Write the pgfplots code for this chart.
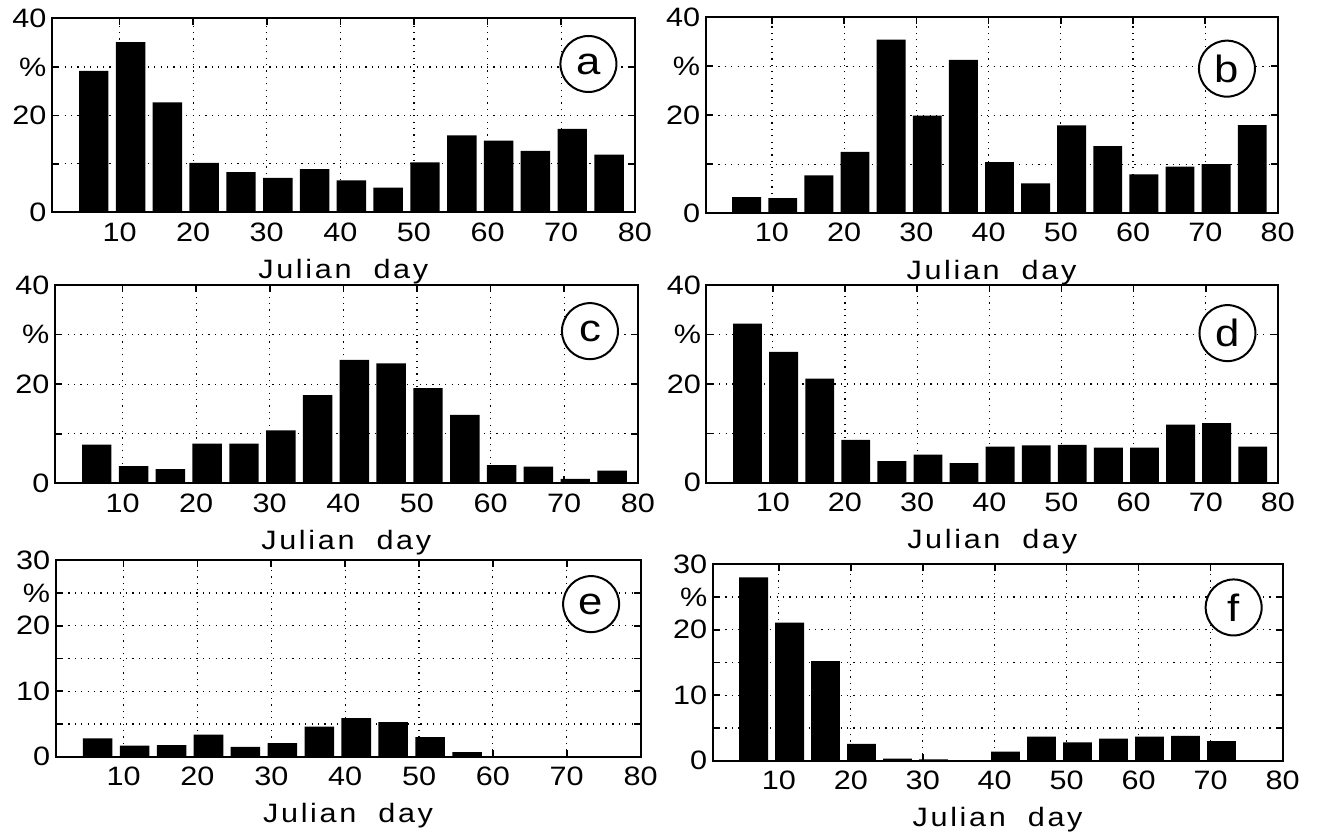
\documentclass[border=0pt]{standalone}
\usepackage{fontspec}
\setmainfont{Liberation Sans}[FakeStretch=1.15]
\newfontfamily\lblfont{Liberation Sans}[FakeStretch=1.15,LetterSpace=10]
\usepackage{pgfplots}
\pgfplotsset{compat=1.18}

\pgfplotsset{
  panel/.style={
    scale only axis,
    xmin=0.8, xmax=80,
    xtick={10,20,30,40,50,60,70,80},
    xticklabels={10,20,30,40,50,60,70,80},
    xtick pos=both, ytick pos=both,
    tick align=inside,
    major tick length=3.5pt,
    every tick/.style={black, line width=0.8pt},
    axis line style={black, line width=1pt},
    grid=major,
    major grid style={black, line width=0.6pt, dash pattern=on 0.6pt off 2.6pt},
    ticklabel style={font=\fontsize{13.3}{15}\selectfont},
    xticklabel shift=1.5pt,
    yticklabel style={inner sep=2.5pt},
    /pgf/number format/assume math mode=true,
    xlabel={\lblfont Julian\hspace{11pt}day},
    xlabel style={font=\fontsize{13.3}{15}\selectfont, at={(axis description cs:0.5,0)}, anchor=base, yshift=-33pt},
  },
  y40/.style={ymin=0, ymax=40, ytick={0,10,20,30,40}, yticklabels={0,,20,\%,40}},
  y30/.style={ymin=0, ymax=30, ytick={0,5,10,15,20,25,30}, yticklabels={0,,10,,20,\%,30}},
  hbar/.style={ybar, fill=black, draw=none, bar width=4, bar shift=0pt},
}
\tikzset{tag/.style={draw, circle, line width=1pt, fill=white, minimum size=28pt, inner sep=0pt, font=\fontsize{19}{21}\selectfont}}

\begin{document}
\begin{tikzpicture}
% (a)
\begin{axis}[panel, y40, at={(25.9pt,-106.2pt)}, anchor=south west, width=291.5pt, height=97pt]
\addplot[hbar] coordinates {(6.5,29.2) (11.5,35.1) (16.5,22.7) (21.5,10.2) (26.5,8.3) (31.5,7.1) (36.5,8.9) (41.5,6.6) (46.5,5.1) (51.5,10.3) (56.5,15.9) (61.5,14.8) (66.5,12.7) (71.5,17.2) (76.5,11.9)};
\node[tag] at (axis cs:73.7,30.6) {a};
\end{axis}
% (b)
\begin{axis}[panel, y40, at={(352.75pt,-106.6pt)}, anchor=south west, width=286pt, height=98pt]
\addplot[hbar] coordinates {(6.5,3.3) (11.5,3.1) (16.5,7.7) (21.5,12.5) (26.5,35.4) (31.5,19.9) (36.5,31.3) (41.5,10.4) (46.5,6.1) (51.5,17.9) (56.5,13.7) (61.5,7.9) (66.5,9.5) (71.5,10.0) (76.5,18.0)};
\node[tag] at (axis cs:73.0,29.5) {b};
\end{axis}
% (c)
\begin{axis}[panel, y40, at={(27.4pt,-241.7pt)}, anchor=south west, width=291.5pt, height=99.2pt]
\addplot[hbar] coordinates {(6.5,7.8) (11.5,3.5) (16.5,2.9) (21.5,8.0) (26.5,8.0) (31.5,10.7) (36.5,17.8) (41.5,24.9) (46.5,24.2) (51.5,19.2) (56.5,13.8) (61.5,3.7) (66.5,3.4) (71.5,0.9) (76.5,2.6)};
\node[tag] at (axis cs:73.5,30.7) {c};
\end{axis}
% (d)
\begin{axis}[panel, y40, at={(353.2pt,-241.4pt)}, anchor=south west, width=285.8pt, height=98.8pt]
\addplot[hbar] coordinates {(6.5,32.2) (11.5,26.5) (16.5,21.1) (21.5,8.7) (26.5,4.4) (31.5,5.7) (36.5,4.0) (41.5,7.3) (46.5,7.6) (51.5,7.7) (56.5,7.1) (61.5,7.1) (66.5,11.8) (71.5,12.1) (76.5,7.3)};
\node[tag] at (axis cs:73.0,30.3) {d};
\end{axis}
% (e)
\begin{axis}[panel, y30, at={(27.8pt,-378.4pt)}, anchor=south west, width=292.5pt, height=98.3pt]
\addplot[hbar] coordinates {(6.5,2.8) (11.5,1.7) (16.5,1.8) (21.5,3.4) (26.5,1.5) (31.5,2.1) (36.5,4.6) (41.5,5.9) (46.5,5.3) (51.5,3.0) (56.5,0.7)};
\node[tag] at (axis cs:73.3,23.3) {e};
\end{axis}
% (f)
\begin{axis}[panel, y30, at={(356.3pt,-380.4pt)}, anchor=south west, width=285pt, height=98.3pt]
\addplot[hbar] coordinates {(6.5,28.0) (11.5,21.1) (16.5,15.2) (21.5,2.6) (26.5,0.35) (31.5,0.2) (36.5,0.1) (41.5,1.4) (46.5,3.7) (51.5,2.8) (56.5,3.4) (61.5,3.7) (66.5,3.8) (71.5,3.0)};
\node[tag] at (axis cs:73.2,23.4) {f};
\end{axis}
\pgfresetboundingbox
\path[use as bounding box] (0,0) rectangle (659.5pt,-417pt);
\end{tikzpicture}
\end{document}
